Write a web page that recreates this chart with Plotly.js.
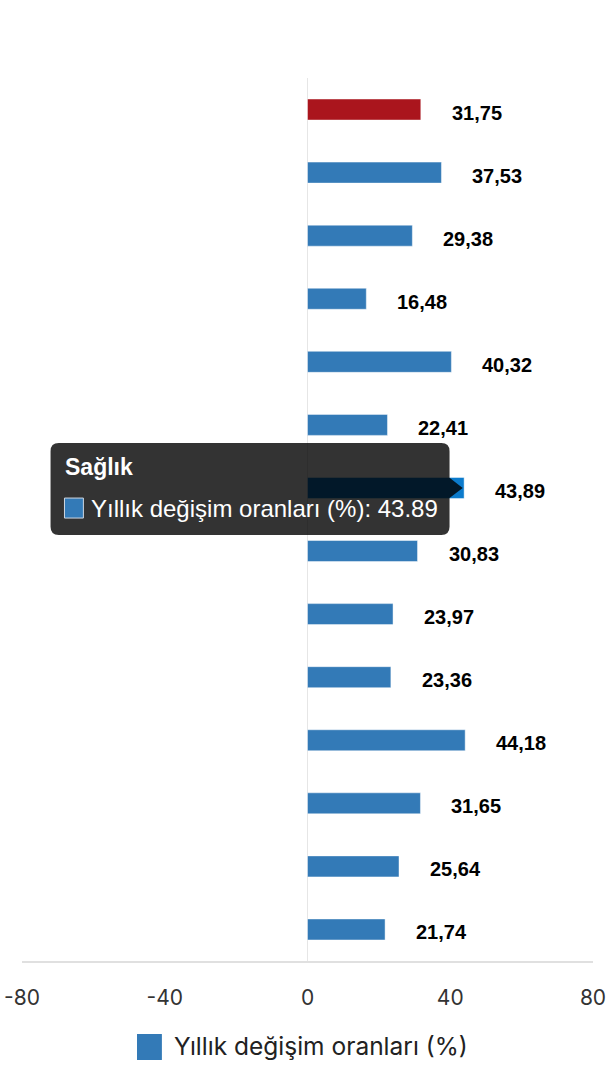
<!DOCTYPE html>
<html>
<head>
<meta charset="utf-8">
<script src="https://cdn.plot.ly/plotly-3.0.1.min.js"></script>
<style>
  html, body { margin: 0; padding: 0; background: #fff; }
  #chart { width: 610px; height: 1080px; }
</style>
</head>
<body>
<div id="chart"></div>
<script>
// Yıllık değişim oranları (%), ana harcama grupları
var categories = [
  'Genel',
  'Gıda ve alkolsüz içecekler',
  'Alkollü içecekler ve tütün',
  'Giyim ve ayakkabı',
  'Konut',
  'Mobilya, ev eşyası ve ev bakım hizmetleri',
  'Sağlık',
  'Ulaştırma',
  'Bilgi ve iletişim',
  'Eğlence, spor ve kültür',
  'Eğitim hizmetleri',
  'Lokanta ve konaklama hizmetleri',
  'Sigorta ve finansal hizmetler',
  'Kişisel bakım ve çeşitli mal ve hizmetler'
];
var values = [31.75, 37.53, 29.38, 16.48, 40.32, 22.41, 43.89, 30.83, 23.97, 23.36, 44.18, 31.65, 25.64, 21.74];
var seriesName = 'Yıllık değişim oranları (%)';
var xTicks = [-80, -40, 0, 40, 80];

var BLUE = '#337ab7', RED = '#aa151d', HOVER_BLUE = '#0c7bcc';
var hovered = categories.indexOf('Sağlık');

var colors = values.map(function (v, i) {
  if (i === 0) return RED;
  if (i === hovered) return HOVER_BLUE;
  return BLUE;
});

var trace = {
  type: 'bar',
  orientation: 'h',
  x: values,
  y: categories,
  marker: { color: colors, line: { color: 'rgba(255,255,255,0.45)', width: 1 } },
  hoverinfo: 'none',
  showlegend: false
};

// data labels, comma decimal
var annotations = values.map(function (v, i) {
  return {
    x: v, y: categories[i], xref: 'x', yref: 'y',
    text: v.toFixed(2).replace('.', ','),
    xanchor: 'left', yanchor: 'middle', xshift: 29, yshift: -3,
    showarrow: false,
    font: { family: 'Liberation Sans, Arial, sans-serif', size: 20, color: '#000', weight: 'bold' }
  };
});

// tooltip (static hover state)
var tip = values[hovered] - 0.4;
var L = -72, R = 39.8, T = hovered - 0.713, B = hovered + 0.746;
var rx = 2.3, ry = 0.13, ah = 0.16;
var tipPath = 'M' + (L + rx) + ',' + T +
  ' L' + (R - rx) + ',' + T + ' Q' + R + ',' + T + ' ' + R + ',' + (T + ry) +
  ' L' + R + ',' + (hovered - ah) + ' L' + tip + ',' + hovered + ' L' + R + ',' + (hovered + ah) +
  ' L' + R + ',' + (B - ry) + ' Q' + R + ',' + B + ' ' + (R - rx) + ',' + B +
  ' L' + (L + rx) + ',' + B + ' Q' + L + ',' + B + ' ' + L + ',' + (B - ry) +
  ' L' + L + ',' + (T + ry) + ' Q' + L + ',' + T + ' ' + (L + rx) + ',' + T + ' Z';

var shapes = [
  { type: 'path', xref: 'x', yref: 'y', path: tipPath,
    fillcolor: 'rgba(0,0,0,0.8)', line: { width: 0 }, layer: 'above' },
  { type: 'rect', xref: 'x', yref: 'y', x0: -68.1, x1: -62.8, y0: hovered + 0.16, y1: hovered + 0.477,
    fillcolor: BLUE, line: { color: '#cfd8e3', width: 1 }, layer: 'above' },
  // legend square
  { type: 'rect', xref: 'paper', yref: 'paper', x0: 0.2014, x1: 0.245, y0: -0.1121, y1: -0.0827,
    fillcolor: BLUE, line: { width: 0 } }
];

annotations.push(
  { x: -68.6, y: hovered - 0.34, xref: 'x', yref: 'y', xanchor: 'left', yanchor: 'middle',
    text: '<b>' + categories[hovered] + '</b>', showarrow: false,
    font: { family: 'Liberation Sans, Arial, sans-serif', size: 23, color: '#fff' } },
  { x: -61.3, y: hovered + 0.318, xref: 'x', yref: 'y', xanchor: 'left', yanchor: 'middle',
    text: seriesName + ': ' + values[hovered].toFixed(2), showarrow: false,
    font: { family: 'Liberation Sans, Arial, sans-serif', size: 24, color: '#fff' } },
  { x: 0.2627, y: -0.0963, xref: 'paper', yref: 'paper', xanchor: 'left', yanchor: 'middle',
    text: seriesName, showarrow: false,
    font: { family: 'Inter, sans-serif', size: 24.5, color: '#222' } }
);

var layout = {
  width: 610,
  height: 1080,
  margin: { l: 22, r: 17, t: 78, b: 119 },
  paper_bgcolor: '#fff',
  plot_bgcolor: '#fff',
  bargap: 0.667,
  showlegend: false,
  xaxis: {
    range: [-80, 80],
    tickvals: xTicks,
    ticktext: xTicks.map(String),
    showgrid: false,
    zeroline: true,
    zerolinecolor: '#e6e6e6',
    zerolinewidth: 1.5,
    showline: true,
    linecolor: '#e0e0e0',
    linewidth: 2,
    ticks: '',
    ticklabelstandoff: 17,
    tickfont: { family: 'Inter, sans-serif', size: 21, color: '#333' },
    fixedrange: true
  },
  yaxis: {
    type: 'category',
    autorange: 'reversed',
    showticklabels: false,
    showgrid: false,
    zeroline: false,
    showline: false,
    ticks: '',
    fixedrange: true
  },
  shapes: shapes,
  annotations: annotations
};

Plotly.newPlot('chart', [trace], layout, { displayModeBar: false, staticPlot: true });
</script>
</body>
</html>
